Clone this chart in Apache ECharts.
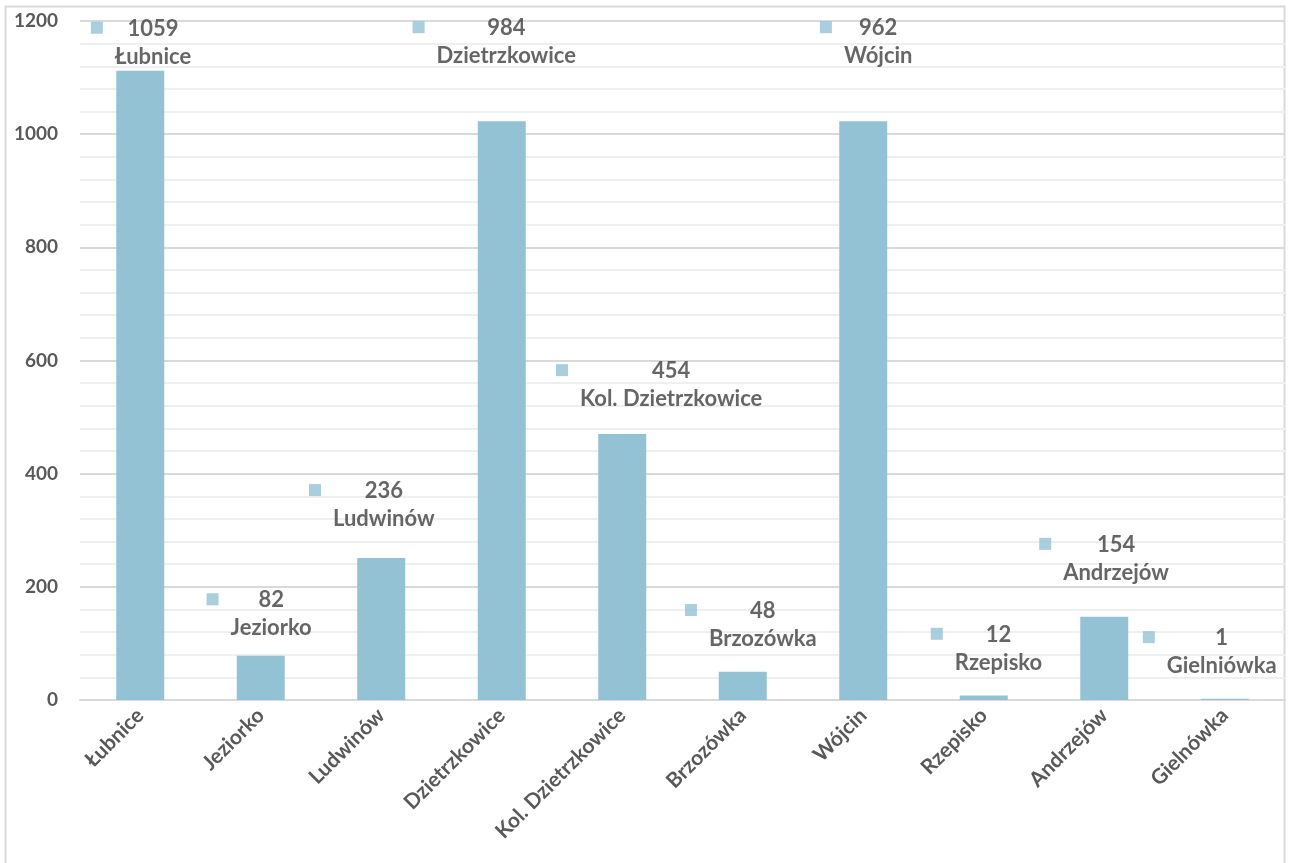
<!DOCTYPE html>
<html>
<head>
<meta charset="utf-8">
<script src="https://cdn.jsdelivr.net/npm/echarts@6/dist/echarts.min.js"></script>
<style>
html,body{margin:0;padding:0;background:#fff;}
#chart{width:1289px;height:863px;}
</style>
</head>
<body>
<div id="chart"></div>
<script>
// Categories (x axis)
const categories = ['Łubnice','Jeziorko','Ludwinów','Dzietrzkowice','Kol. Dzietrzkowice','Brzozówka','Wójcin','Rzepisko','Andrzejów','Gielnówka'];
// Bar heights
const barValues = [1112, 78, 251, 1023, 470, 50, 1023, 8, 147, 2];
// Data label texts as shown in the chart
const labelValues = [1059, 82, 236, 984, 454, 48, 962, 12, 154, 1];
const labelNames = ['Łubnice','Jeziorko','Ludwinów','Dzietrzkowice','Kol. Dzietrzkowice','Brzozówka','Wójcin','Rzepisko','Andrzejów','Gielniówka'];
// Where the data label (legend key square) sits: category units and value units
const labelX = [-0.36, 0.60, 1.45, 2.31, 3.50, 4.57, 5.69, 6.61, 7.51, 8.37];
const labelY = [1188, 178, 371, 1189, 583, 159, 1189, 117, 276, 111];
// Y tick values
const yMin = 0, yMax = 1200, yStep = 200;

const barColor = '#93c2d4';
const textColor = '#595959';
const font = 'Lato, "Open Sans", sans-serif';

const chart = echarts.init(document.getElementById('chart'));

const labelData = labelX.map((x, i) => ({
  value: [x, labelY[i]],
  lv: labelValues[i],
  ln: labelNames[i]
}));

chart.setOption({
  animation: false,
  backgroundColor: '#fff',
  graphic: [{
    type: 'rect',
    shape: {x: 5.5, y: 6.5, width: 1279, height: 880},
    style: {fill: 'none', stroke: '#d9d9d9', lineWidth: 2},
    silent: true
  }],
  grid: {left: 80, right: 4, top: 21, bottom: 163},
  xAxis: [{
    type: 'category',
    data: categories,
    axisLine: {show: true, lineStyle: {color: '#d9d9d9', width: 2}},
    axisTick: {show: false},
    axisLabel: {
      rotate: 45, interval: 0, margin: 12,
      color: textColor, fontFamily: font, fontWeight: 'bold', fontSize: 21
    }
  }, {
    type: 'value',
    min: -0.5, max: 9.5,
    show: false
  }],
  yAxis: {
    type: 'value',
    min: yMin, max: yMax, interval: yStep,
    axisLine: {show: false},
    axisTick: {show: false},
    axisLabel: {
      margin: 22, color: textColor, fontFamily: font, fontWeight: 'bold', fontSize: 19,
      formatter: v => String(v)
    },
    splitLine: {show: true, lineStyle: {color: '#d9d9d9', width: 2}},
    minorTick: {show: false, splitNumber: 5},
    minorSplitLine: {show: true, lineStyle: {color: '#efefef', width: 2}}
  },
  series: [{
    type: 'bar',
    data: barValues,
    barWidth: 48,
    itemStyle: {color: barColor},
    silent: true
  }, {
    type: 'scatter',
    xAxisIndex: 1,
    yAxisIndex: 0,
    data: labelData,
    symbol: 'rect',
    symbolSize: 12,
    itemStyle: {color: barColor},
    silent: true,
    label: {
      show: true,
      position: 'right',
      distance: 12,
      offset: [0, 15],
      formatter: p => '{v|' + p.data.lv + '}\n{n|' + p.data.ln + '}',
      rich: {
        v: {align: 'center', fontFamily: font, fontWeight: 'bold', fontSize: 22, color: '#404040', lineHeight: 28},
        n: {align: 'center', fontFamily: font, fontWeight: 'bold', fontSize: 22, color: '#404040', lineHeight: 28}
      }
    }
  }]
});
</script>
</body>
</html>
